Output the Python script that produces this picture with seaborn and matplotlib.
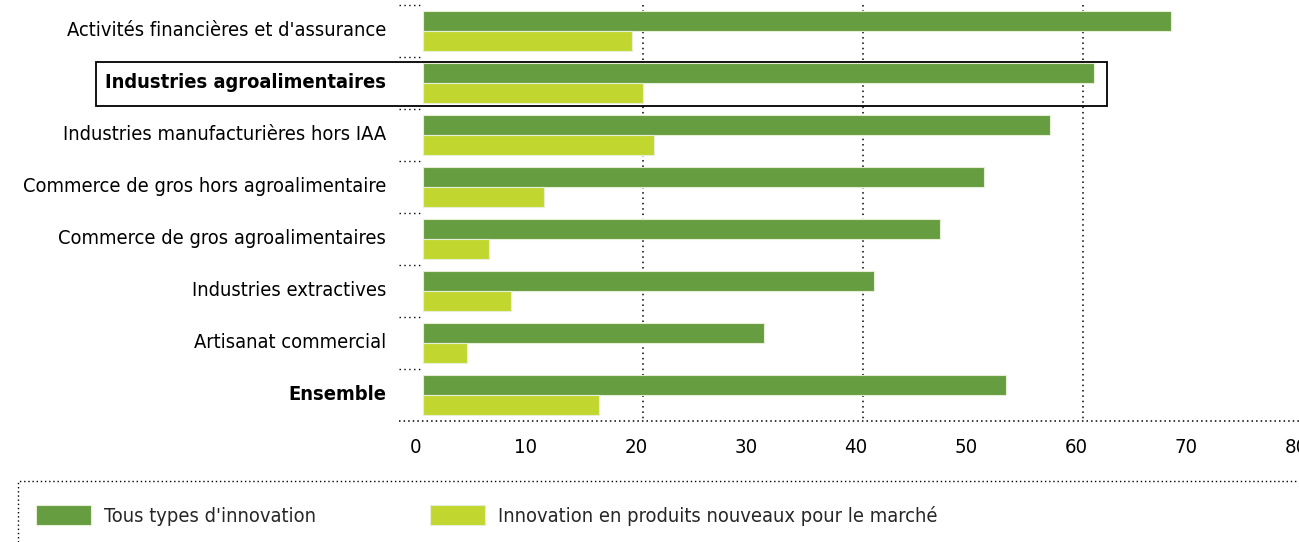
import pandas as pd
import matplotlib.pyplot as plt
import seaborn as sns
from matplotlib.patches import Rectangle, Patch
from matplotlib import transforms

secteurs = [
    "Activités financières et d'assurance",
    "Industries agroalimentaires",
    "Industries manufacturières hors IAA",
    "Commerce de gros hors agroalimentaire",
    "Commerce de gros agroalimentaires",
    "Industries extractives",
    "Artisanat commercial",
    "Ensemble",
]
tous_types = [68, 61, 57, 51, 47, 41, 31, 53]
produits_nouveaux = [19, 20, 21, 11, 6, 8, 4, 16]
series = ["Tous types d'innovation", "Innovation en produits nouveaux pour le marché"]
couleurs = ["#659d40", "#c1d730"]
graduations = list(range(0, 90, 10))
grille = [20, 40, 60]
en_gras = ["Industries agroalimentaires", "Ensemble"]
encadre = "Industries agroalimentaires"


def main():
    df = pd.DataFrame({
        "secteur": secteurs * 2,
        "valeur": tous_types + produits_nouveaux,
        "serie": [series[0]] * len(secteurs) + [series[1]] * len(secteurs),
    })

    sns.set_style("white")
    plt.rcParams["font.family"] = ["DejaVu Sans"]
    plt.rcParams["font.stretch"] = "condensed"

    fig = plt.figure(figsize=(12.99, 5.42), dpi=100)
    W, H = 1299, 542
    x0, x1 = -2.2, 80.5
    ppu = 11.0
    left_px = 423 + x0 * ppu
    width_px = (x1 - x0) * ppu
    ax = fig.add_axes([left_px / W, 1 - 421 / H, width_px / W, 416 / H])

    # gridlines behind bars
    ax.vlines(grille, -0.5, len(secteurs) - 0.5, colors="black",
              linestyles=(0, (1, 2.5)), linewidth=1.1, zorder=0)
    # left separators between categories
    for i in range(len(secteurs)):
        ax.plot([x0, 0], [i - 0.5, i - 0.5], color="black",
                linestyle=(0, (1, 2.5)), linewidth=1.0, zorder=0, clip_on=False)
    ax.plot([x0, x1], [len(secteurs) - 0.5] * 2, color="black",
            linestyle=(0, (1, 2)), linewidth=1.1, zorder=0, clip_on=False)

    sns.barplot(data=df, y="secteur", x="valeur", hue="serie", orient="h",
                palette=couleurs, width=0.78, gap=0.03, edgecolor="#e6eed6",
                linewidth=0.8, saturation=1, ax=ax, zorder=2)

    ax.set_xlim(x0, x1)
    ax.set_ylim(len(secteurs) - 0.5, -0.5)
    ax.set_xticks(graduations)
    ax.set_xticklabels([str(g) for g in graduations])
    ax.set_xlabel("")
    ax.set_ylabel("")
    for s in ax.spines.values():
        s.set_visible(False)
    ax.tick_params(axis="x", length=0, pad=12, labelsize=14.6, colors="black")
    ax.tick_params(axis="y", length=0, pad=9, labelsize=14.4, colors="black")
    decal_x = transforms.ScaledTranslation(-7 / 100, 0, fig.dpi_scale_trans)
    for lab in ax.get_xticklabels():
        lab.set_transform(lab.get_transform() + decal_x)
    decal_y = transforms.ScaledTranslation(0, 2 / 100, fig.dpi_scale_trans)
    for lab in ax.get_yticklabels():
        lab.set_transform(lab.get_transform() + decal_y)
        if lab.get_text() in en_gras:
            lab.set_fontweight("bold")
    ax.legend_.remove()

    # highlight box around one sector
    fig.canvas.draw()
    idx = secteurs.index(encadre)
    lab = ax.get_yticklabels()[idx]
    bb = lab.get_window_extent()
    inv = ax.transData.inverted()
    gauche = inv.transform((bb.x0 - 9, 0))[0]
    droite = tous_types[idx] + 1.2
    ax.add_patch(Rectangle((gauche, idx - 0.4), droite - gauche, 0.84,
                           fill=False, edgecolor="black", linewidth=1.3,
                           clip_on=False, zorder=3))

    # legend with dotted frame
    fig.patches.append(Rectangle((18 / W, -0.1), 1.2, 1 - 481 / H + 0.1,
                                 transform=fig.transFigure, fill=False,
                                 edgecolor="black", linestyle=(0, (1, 2)),
                                 linewidth=1.0))
    poignees = [Patch(facecolor=c, edgecolor="#e6eed6", linewidth=0.8) for c in couleurs]
    fig.legend(poignees, series, loc="center left", bbox_to_anchor=(18 / W, 1 - 515 / H),
               ncol=2, frameon=False, fontsize=14.4, handlelength=2.75,
               handleheight=1.2, handletextpad=0.65, columnspacing=5.7)

    fig.savefig("out.png", dpi=100)


if __name__ == "__main__":
    main()
